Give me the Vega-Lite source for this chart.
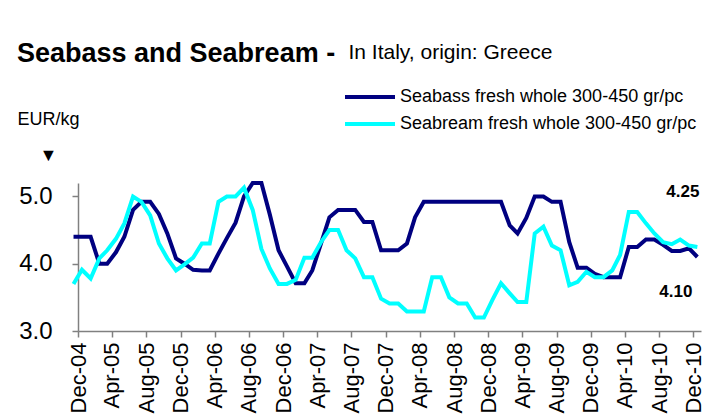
{
  "$schema": "https://vega.github.io/schema/vega-lite/v6.json",
  "width": 623,
  "height": 148,
  "autosize": {"type": "none"},
  "padding": {"left": 78, "top": 183, "right": 21, "bottom": 89},
  "background": "white",
  "title": {
    "text": "Seabass and Seabream -",
    "anchor": "start",
    "frame": "bounds",
    "font": "Liberation Sans",
    "fontSize": 27,
    "fontWeight": "bold",
    "color": "black",
    "baseline": "alphabetic",
    "offset": 10,
    "dy": 58
  },
  "data": {
    "format": {"parse": {"month": "utc:'%Y-%m-%d'"}},
    "values": [
      {"month": "2004-11-15", "seabass": 4.40, "seabream": 3.70},
      {"month": "2004-12-15", "seabass": 4.40, "seabream": 3.91},
      {"month": "2005-01-15", "seabass": 4.40, "seabream": 3.78},
      {"month": "2005-02-15", "seabass": 4.00, "seabream": 4.08},
      {"month": "2005-03-15", "seabass": 4.00, "seabream": 4.20},
      {"month": "2005-04-15", "seabass": 4.17, "seabream": 4.37},
      {"month": "2005-05-15", "seabass": 4.40, "seabream": 4.60},
      {"month": "2005-06-15", "seabass": 4.80, "seabream": 5.00},
      {"month": "2005-07-15", "seabass": 4.92, "seabream": 4.92},
      {"month": "2005-08-15", "seabass": 4.92, "seabream": 4.72},
      {"month": "2005-09-15", "seabass": 4.74, "seabream": 4.30},
      {"month": "2005-10-15", "seabass": 4.45, "seabream": 4.08},
      {"month": "2005-11-15", "seabass": 4.08, "seabream": 3.90},
      {"month": "2005-12-15", "seabass": 4.00, "seabream": 3.99},
      {"month": "2006-01-15", "seabass": 3.91, "seabream": 4.09},
      {"month": "2006-02-15", "seabass": 3.90, "seabream": 4.30},
      {"month": "2006-03-15", "seabass": 3.90, "seabream": 4.30},
      {"month": "2006-04-15", "seabass": 4.15, "seabream": 4.92},
      {"month": "2006-05-15", "seabass": 4.38, "seabream": 5.00},
      {"month": "2006-06-15", "seabass": 4.61, "seabream": 5.00},
      {"month": "2006-07-15", "seabass": 5.00, "seabream": 5.13},
      {"month": "2006-08-15", "seabass": 5.20, "seabream": 4.80},
      {"month": "2006-09-15", "seabass": 5.20, "seabream": 4.22},
      {"month": "2006-10-15", "seabass": 4.73, "seabream": 3.93},
      {"month": "2006-11-15", "seabass": 4.20, "seabream": 3.70},
      {"month": "2006-12-15", "seabass": 3.96, "seabream": 3.70},
      {"month": "2007-01-15", "seabass": 3.71, "seabream": 3.76},
      {"month": "2007-02-15", "seabass": 3.71, "seabream": 4.09},
      {"month": "2007-03-15", "seabass": 3.90, "seabream": 4.09},
      {"month": "2007-04-15", "seabass": 4.30, "seabream": 4.32},
      {"month": "2007-05-15", "seabass": 4.69, "seabream": 4.50},
      {"month": "2007-06-15", "seabass": 4.80, "seabream": 4.50},
      {"month": "2007-07-15", "seabass": 4.80, "seabream": 4.20},
      {"month": "2007-08-15", "seabass": 4.80, "seabream": 4.08},
      {"month": "2007-09-15", "seabass": 4.62, "seabream": 3.80},
      {"month": "2007-10-15", "seabass": 4.62, "seabream": 3.80},
      {"month": "2007-11-15", "seabass": 4.20, "seabream": 3.48},
      {"month": "2007-12-15", "seabass": 4.20, "seabream": 3.41},
      {"month": "2008-01-15", "seabass": 4.20, "seabream": 3.41},
      {"month": "2008-02-15", "seabass": 4.30, "seabream": 3.29},
      {"month": "2008-03-15", "seabass": 4.69, "seabream": 3.29},
      {"month": "2008-04-15", "seabass": 4.92, "seabream": 3.29},
      {"month": "2008-05-15", "seabass": 4.92, "seabream": 3.80},
      {"month": "2008-06-15", "seabass": 4.92, "seabream": 3.80},
      {"month": "2008-07-15", "seabass": 4.92, "seabream": 3.50},
      {"month": "2008-08-15", "seabass": 4.92, "seabream": 3.41},
      {"month": "2008-09-15", "seabass": 4.92, "seabream": 3.41},
      {"month": "2008-10-15", "seabass": 4.92, "seabream": 3.20},
      {"month": "2008-11-15", "seabass": 4.92, "seabream": 3.20},
      {"month": "2008-12-15", "seabass": 4.92, "seabream": 3.46},
      {"month": "2009-01-15", "seabass": 4.92, "seabream": 3.71},
      {"month": "2009-02-15", "seabass": 4.57, "seabream": 3.56},
      {"month": "2009-03-15", "seabass": 4.45, "seabream": 3.43},
      {"month": "2009-04-15", "seabass": 4.68, "seabream": 3.43},
      {"month": "2009-05-15", "seabass": 5.00, "seabream": 4.45},
      {"month": "2009-06-15", "seabass": 5.00, "seabream": 4.55},
      {"month": "2009-07-15", "seabass": 4.92, "seabream": 4.27},
      {"month": "2009-08-15", "seabass": 4.92, "seabream": 4.20},
      {"month": "2009-09-15", "seabass": 4.32, "seabream": 3.68},
      {"month": "2009-10-15", "seabass": 3.94, "seabream": 3.73},
      {"month": "2009-11-15", "seabass": 3.94, "seabream": 3.88},
      {"month": "2009-12-15", "seabass": 3.85, "seabream": 3.80},
      {"month": "2010-01-15", "seabass": 3.80, "seabream": 3.80},
      {"month": "2010-02-15", "seabass": 3.80, "seabream": 3.90},
      {"month": "2010-03-15", "seabass": 3.80, "seabream": 4.13},
      {"month": "2010-04-15", "seabass": 4.25, "seabream": 4.77},
      {"month": "2010-05-15", "seabass": 4.25, "seabream": 4.77},
      {"month": "2010-06-15", "seabass": 4.36, "seabream": 4.60},
      {"month": "2010-07-15", "seabass": 4.36, "seabream": 4.45},
      {"month": "2010-08-15", "seabass": 4.28, "seabream": 4.32},
      {"month": "2010-09-15", "seabass": 4.19, "seabream": 4.29},
      {"month": "2010-10-15", "seabass": 4.19, "seabream": 4.36},
      {"month": "2010-11-15", "seabass": 4.23, "seabream": 4.27},
      {"month": "2010-12-15", "seabass": 4.10, "seabream": 4.25}
    ]
  },
  "transform": [{"fold": ["seabass", "seabream"], "as": ["series", "price"]}],
  "encoding": {
    "x": {
      "field": "month",
      "type": "temporal",
      "scale": {
        "type": "utc",
        "domain": [
          {"year": 2004, "month": 12, "date": 1, "utc": true},
          {"year": 2010, "month": 12, "date": 28, "utc": true}
        ]
      },
      "axis": {
        "title": "In Italy, origin: Greece",
        "titleFontSize": 21,
        "titleFontWeight": "normal",
        "titleAlign": "left",
        "titleAnchor": "start",
        "titleAngle": 0,
        "titleBaseline": "alphabetic",
        "titleX": 270,
        "titleY": -273,
        "labelExpr": "utcFormat(datum.value, '%b-%y')",
        "values": [
          {"year": 2004, "month": 12, "date": 1, "utc": true},
          {"year": 2005, "month": 4, "date": 1, "utc": true},
          {"year": 2005, "month": 8, "date": 1, "utc": true},
          {"year": 2005, "month": 12, "date": 1, "utc": true},
          {"year": 2006, "month": 4, "date": 1, "utc": true},
          {"year": 2006, "month": 8, "date": 1, "utc": true},
          {"year": 2006, "month": 12, "date": 1, "utc": true},
          {"year": 2007, "month": 4, "date": 1, "utc": true},
          {"year": 2007, "month": 8, "date": 1, "utc": true},
          {"year": 2007, "month": 12, "date": 1, "utc": true},
          {"year": 2008, "month": 4, "date": 1, "utc": true},
          {"year": 2008, "month": 8, "date": 1, "utc": true},
          {"year": 2008, "month": 12, "date": 1, "utc": true},
          {"year": 2009, "month": 4, "date": 1, "utc": true},
          {"year": 2009, "month": 8, "date": 1, "utc": true},
          {"year": 2009, "month": 12, "date": 1, "utc": true},
          {"year": 2010, "month": 4, "date": 1, "utc": true},
          {"year": 2010, "month": 8, "date": 1, "utc": true},
          {"year": 2010, "month": 12, "date": 1, "utc": true}
        ],
        "labelAngle": 270,
        "labelFontSize": 22,
        "labelPadding": 5,
        "labelOverlap": false,
        "labelFlush": false,
        "tickSize": 6
      }
    },
    "y": {
      "field": "price",
      "type": "quantitative",
      "scale": {"domain": [3, 5.2], "nice": false, "zero": false},
      "axis": {
        "title": ["EUR/kg", "\u25bc"],
        "titleAngle": 0,
        "titleAlign": "center",
        "titleBaseline": "alphabetic",
        "titleX": -30,
        "titleY": -59,
        "titleFontSize": 18,
        "titleFontWeight": "normal",
        "titleLineHeight": 36,
        "values": [3, 4, 5],
        "format": ".1f",
        "labelFontSize": 24,
        "labelPadding": 20,
        "tickSize": 6
      }
    }
  },
  "layer": [
    {
      "mark": {"type": "line", "strokeWidth": 4},
      "encoding": {
        "color": {
          "field": "series",
          "type": "nominal",
          "scale": {"domain": ["seabass", "seabream"], "range": ["#000080", "#00ffff"]},
          "legend": {
            "title": null,
            "orient": "none",
            "legendX": 280,
            "legendY": -98,
            "rowPadding": 6,
            "labelExpr": "datum.label == 'seabass' ? 'Seabass fresh whole 300-450 gr/pc' : 'Seabream fresh whole 300-450 gr/pc'"
          }
        }
      }
    },
    {
      "transform": [{"filter": "datum.series == 'seabream' && time(datum.month) > utc(2010, 10, 30)"}],
      "mark": {"type": "text", "align": "right", "baseline": "alphabetic", "dx": 2, "dy": -50, "fontSize": 17, "fontWeight": "bold", "color": "black"},
      "encoding": {"text": {"field": "price", "type": "quantitative", "format": ".2f"}}
    },
    {
      "transform": [{"filter": "datum.series == 'seabass' && time(datum.month) > utc(2010, 10, 30)"}],
      "mark": {"type": "text", "align": "right", "baseline": "alphabetic", "dx": -5, "dy": 40, "fontSize": 17, "fontWeight": "bold", "color": "black"},
      "encoding": {"text": {"field": "price", "type": "quantitative", "format": ".2f"}}
    }
  ],
  "config": {
    "font": "Liberation Sans",
    "view": {"stroke": null},
    "axis": {
      "grid": false,
      "labelFont": "Liberation Sans",
      "titleFont": "Liberation Sans",
      "labelColor": "black",
      "titleColor": "black",
      "domainColor": "#808080",
      "domainWidth": 1.5,
      "tickColor": "#808080",
      "tickWidth": 1.5
    },
    "legend": {
      "padding": 0,
      "labelFont": "Liberation Sans",
      "labelFontSize": 18,
      "labelColor": "black",
      "labelOffset": 18,
      "symbolType": "M-2.5,0H2.5",
      "symbolSize": 400,
      "symbolStrokeWidth": 4,
      "labelLimit": 400
    }
  }
}
